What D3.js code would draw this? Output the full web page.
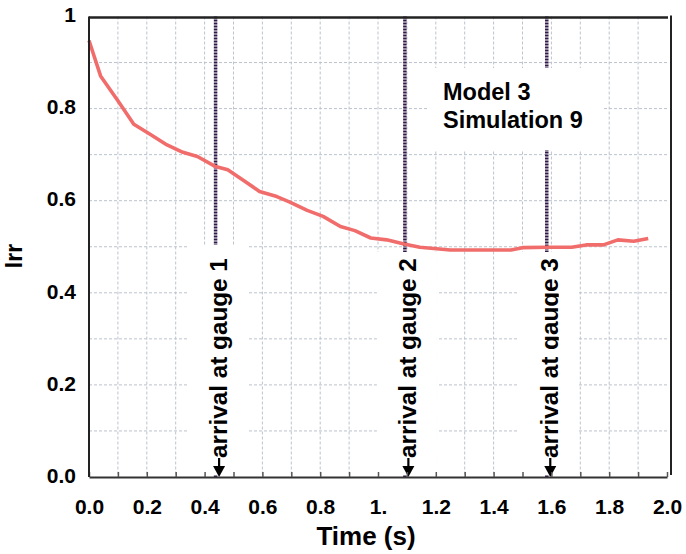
<!DOCTYPE html>
<html>
<head>
<meta charset="utf-8">
<script src="https://cdn.jsdelivr.net/npm/d3@7"></script>
<style>
  html, body { margin: 0; padding: 0; background: #fff; }
  svg { display: block; }
  text { font-family: "Liberation Sans", Arial, Helvetica, sans-serif; font-weight: bold; fill: #000; }
</style>
</head>
<body>
<svg id="chart" width="686" height="554"></svg>
<script>
// ---------- data ----------
const times = [0, 0.04, 0.10, 0.155, 0.21, 0.27, 0.325, 0.375, 0.435, 0.48, 0.535, 0.59, 0.65, 0.695,
  0.755, 0.81, 0.87, 0.92, 0.975, 1.03, 1.09, 1.145, 1.25, 1.36, 1.46, 1.50, 1.585, 1.67, 1.72,
  1.78, 1.83, 1.885, 1.935];
const irr = [0.948, 0.871, 0.817, 0.766, 0.745, 0.721, 0.705, 0.696, 0.675, 0.667, 0.644, 0.620,
  0.609, 0.597, 0.579, 0.566, 0.544, 0.535, 0.519, 0.515, 0.506, 0.499, 0.493, 0.493, 0.493,
  0.498, 0.499, 0.499, 0.504, 0.504, 0.515, 0.512, 0.518];
const gaugeTimes = [0.438, 1.093, 1.584];
const gaugeLabels = ["arrival at gauge 1", "arrival at gauge 2", "arrival at gauge 3"];
const xTickValues = [0, 0.2, 0.4, 0.6, 0.8, 1.0, 1.2, 1.4, 1.6, 1.8, 2.0];
const xTickLabels = ["0.0", "0.2", "0.4", "0.6", "0.8", "1.", "1.2", "1.4", "1.6", "1.8", "2.0"];
const yTickValues = [0, 0.2, 0.4, 0.6, 0.8, 1];
const yTickLabels = ["0.0", "0.2", "0.4", "0.6", "0.8", "1"];
const modelText = ["Model 3", "Simulation 9"];
const xLabel = "Time (s)";
const yLabel = "Irr";

// ---------- layout ----------
const svg = d3.select("#chart");
const x = d3.scaleLinear().domain([0, 2]).range([89, 667]);
const y = d3.scaleLinear().domain([0, 1]).range([477, 16.5]);
const gridVals = d3.range(1, 20).map(i => i / 10);
const gridValsY = d3.range(1, 10).map(i => i / 10);
const labelBoxTop = [245, 252, 252];

// grid
const grid = svg.append("g").attr("stroke", "#bcc3cd").attr("stroke-width", 1).attr("stroke-dasharray", "3,2");
grid.selectAll("line.v").data(gridVals).join("line").attr("class", "v")
  .attr("x1", d => x(d)).attr("x2", d => x(d)).attr("y1", y(1)).attr("y2", y(0));
grid.selectAll("line.h").data(gridValsY).join("line").attr("class", "h")
  .attr("x1", x(0)).attr("x2", x(2)).attr("y1", d => y(d)).attr("y2", d => y(d));

// gauge dotted lines
svg.append("g").selectAll("line").data(gaugeTimes).join("line")
  .attr("x1", d => x(d)).attr("x2", d => x(d)).attr("y1", y(1)).attr("y2", y(0))
  .attr("stroke", "#2f1748").attr("stroke-width", 3.5).attr("stroke-dasharray", "2,1");

// white boxes behind labels
svg.append("g").selectAll("rect").data(gaugeTimes).join("rect")
  .attr("x", d => x(d) - 28).attr("y", (d, i) => labelBoxTop[i])
  .attr("width", 60).attr("height", (d, i) => y(0) - 2 - labelBoxTop[i])
  .attr("fill", "#fff");
svg.append("rect").attr("x", 428).attr("y", 68).attr("width", 175).attr("height", 82).attr("fill", "#fff");

// model text
svg.append("g").selectAll("text").data(modelText).join("text")
  .attr("x", 443).attr("y", (d, i) => 100 + i * 28)
  .attr("font-size", 23.5).text(d => d);

// curve
svg.append("path")
  .datum(times.map((t, i) => [t, irr[i]]))
  .attr("fill", "none").attr("stroke", "#f06d6b").attr("stroke-width", 3.6)
  .attr("stroke-linejoin", "round")
  .attr("d", d3.line().x(d => x(d[0])).y(d => y(d[1])));

// gauge labels with arrows
const defs = svg.append("defs");
defs.append("clipPath").attr("id", "clip3").append("rect")
  .attr("x", x(gaugeTimes[2]) - 30).attr("y", 200).attr("width", 30 + 12).attr("height", 300);
const lab = svg.append("g").selectAll("g").data(gaugeTimes).join("g");
lab.append("g").attr("clip-path", (d, i) => i === 2 ? "url(#clip3)" : null)
  .append("text")
  .attr("transform", d => `translate(${x(d) + 11},458) rotate(-90)`)
  .attr("font-size", 24.3)
  .text((d, i) => gaugeLabels[i]);
lab.append("line")
  .attr("x1", d => x(d) + 3.5).attr("x2", d => x(d) + 3.5).attr("y1", 458).attr("y2", 468)
  .attr("stroke", "#000").attr("stroke-width", 2.2);
lab.append("path")
  .attr("d", d => `M${x(d) + 3.5 - 6},${466}L${x(d) + 3.5 + 6},${466}L${x(d) + 3.5},${y(0)}Z`)
  .attr("fill", "#000");

// x axis
const xAxis = d3.axisBottom(x)
  .tickValues(d3.range(0, 21).map(i => i / 10))
  .tickSizeInner(-5).tickSizeOuter(0).tickPadding(22)
  .tickFormat((d, i) => i % 2 === 0 ? xTickLabels[i / 2] : "");
const gx = svg.append("g").attr("transform", `translate(0,${y(0)})`).call(xAxis);
gx.select(".domain").attr("stroke", "#333").attr("stroke-width", 2);
gx.selectAll(".tick line").attr("stroke", "#555").attr("stroke-width", 1.5);
gx.selectAll(".tick text").attr("font-size", 21).attr("font-family", null).attr("fill", "#000");

// y axis
const yAxis = d3.axisLeft(y).tickValues(yTickValues).tickSize(0).tickPadding(13)
  .tickFormat((d, i) => yTickLabels[i]);
const gy = svg.append("g").attr("transform", `translate(${x(0)},0)`).call(yAxis);
gy.select(".domain").remove();
gy.selectAll(".tick text").attr("font-size", 21).attr("font-family", null).attr("fill", "#000").attr("dy", "0.25em");

// frame lines
svg.append("line").attr("x1", x(0)).attr("x2", x(0)).attr("y1", y(1)).attr("y2", y(0))
  .attr("stroke", "#222").attr("stroke-width", 2);
svg.append("line").attr("x1", x(0)).attr("x2", x(2) + 1).attr("y1", y(1) + 1).attr("y2", y(1) + 1)
  .attr("stroke", "#222").attr("stroke-width", 2.5);
svg.append("line").attr("x1", x(2) + 4).attr("x2", x(2) + 4).attr("y1", y(1) - 1).attr("y2", y(0) - 2)
  .attr("stroke", "#222").attr("stroke-width", 2);

// axis titles
svg.append("text").attr("x", 366).attr("y", 545).attr("text-anchor", "middle")
  .attr("font-size", 26).text(xLabel);
svg.append("text").attr("transform", "translate(22,256) rotate(-90)").attr("text-anchor", "middle")
  .attr("font-size", 23).text(yLabel);
</script>
</body>
</html>
